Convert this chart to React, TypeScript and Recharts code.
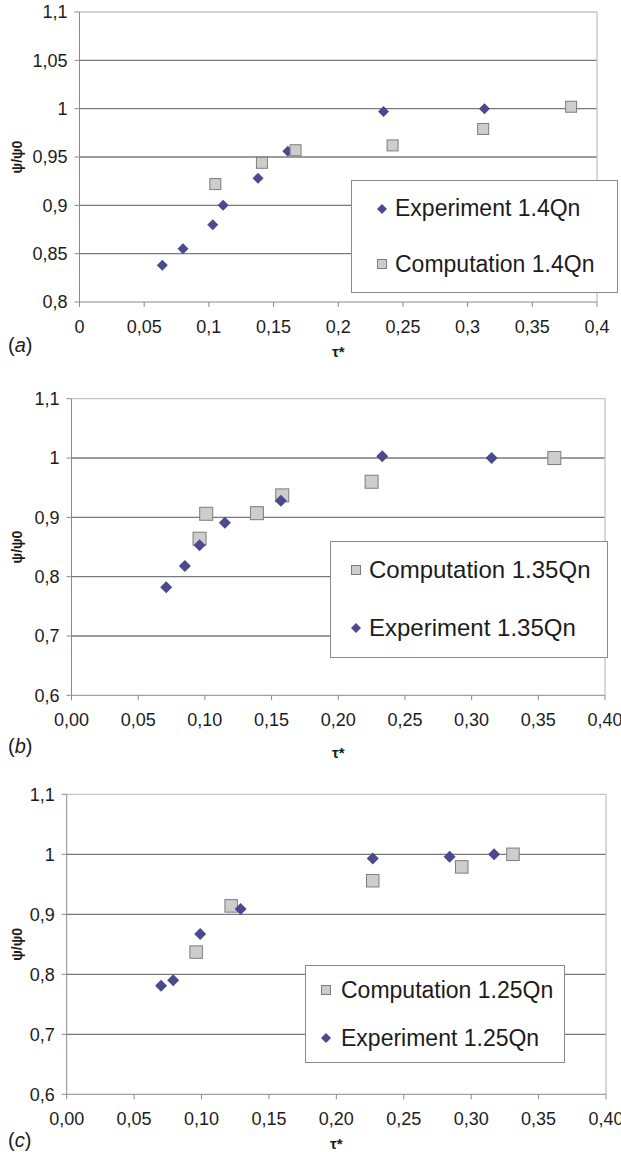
import React from 'react';
import {
  ScatterChart,
  Scatter,
  XAxis,
  YAxis,
  CartesianGrid,
  ReferenceLine,
  Legend,
  Label
} from 'recharts';

// tick values and labels
const xTicks = [0, 0.05, 0.1, 0.15, 0.2, 0.25, 0.3, 0.35, 0.4];
const xLabelsA = ['0', '0,05', '0,1', '0,15', '0,2', '0,25', '0,3', '0,35', '0,4'];
const xLabelsBC = ['0,00', '0,05', '0,10', '0,15', '0,20', '0,25', '0,30', '0,35', '0,40'];
const yTicksA = [0.8, 0.85, 0.9, 0.95, 1, 1.05, 1.1];
const yLabelsA = ['0,8', '0,85', '0,9', '0,95', '1', '1,05', '1,1'];
const yTicksBC = [0.6, 0.7, 0.8, 0.9, 1, 1.1];
const yLabelsBC = ['0,6', '0,7', '0,8', '0,9', '1', '1,1'];

// (a) 1.4Qn
const expA_x = [0.064, 0.08, 0.103, 0.111, 0.138, 0.161, 0.235, 0.313];
const expA_y = [0.838, 0.855, 0.88, 0.9, 0.928, 0.956, 0.997, 1.0];
const compA_x = [0.105, 0.141, 0.167, 0.242, 0.312, 0.38];
const compA_y = [0.922, 0.944, 0.957, 0.962, 0.979, 1.002];

// (b) 1.35Qn
const compB_x = [0.096, 0.101, 0.139, 0.158, 0.225, 0.362];
const compB_y = [0.864, 0.906, 0.907, 0.937, 0.96, 1.0];
const expB_x = [0.071, 0.085, 0.096, 0.115, 0.157, 0.233, 0.315];
const expB_y = [0.782, 0.818, 0.853, 0.891, 0.928, 1.003, 1.0];

// (c) 1.25Qn
const compC_x = [0.096, 0.122, 0.227, 0.293, 0.331];
const compC_y = [0.837, 0.914, 0.956, 0.979, 1.0];
const expC_x = [0.07, 0.079, 0.099, 0.129, 0.227, 0.284, 0.317];
const expC_y = [0.781, 0.79, 0.867, 0.909, 0.993, 0.996, 1.0];

const FONT = '"Liberation Sans", Arial, sans-serif';
const DIAMOND = '#4b4a8f';
const SQ = '#cdcdcd';
const SQ_EDGE = '#7d7d7d';
const GRID = '#7a7a7a';
const BORDER = '#c4c4c4';
const TEXT = '#1c1c1c';

const pts = (xs: number[], ys: number[]) => xs.map((x, i) => ({ x, y: ys[i] }));

const diamondShape = (r: number) => (props: any) => {
  const { cx, cy } = props;
  if (cx == null || cy == null) return <g />;
  return (
    <polygon
      points={`${cx},${cy - r} ${cx + r},${cy} ${cx},${cy + r} ${cx - r},${cy}`}
      fill={DIAMOND}
    />
  );
};

const squareShape = (s: number) => (props: any) => {
  const { cx, cy } = props;
  if (cx == null || cy == null) return <g />;
  return (
    <rect
      x={cx - s / 2}
      y={cy - s / 2}
      width={s}
      height={s}
      fill={SQ}
      stroke={SQ_EDGE}
      strokeWidth={1}
    />
  );
};

const legendBox = (order: string[], cfg: any) => (props: any) => {
  const items = [...(props.payload || [])].sort(
    (a, b) => order.indexOf(a.value) - order.indexOf(b.value)
  );
  return (
    <div
      style={{
        boxSizing: 'border-box',
        width: cfg.w,
        height: cfg.h,
        border: '1px solid #8a8a8a',
        background: '#fff',
        display: 'flex',
        flexDirection: 'column',
        justifyContent: 'space-around',
        paddingLeft: cfg.pad,
        fontFamily: FONT
      }}
    >
      {items.map((it) => (
        <div
          key={it.value}
          style={{ display: 'flex', alignItems: 'center', fontSize: cfg.fs, color: TEXT, lineHeight: 1 }}
        >
          <svg width={10} height={10} style={{ marginRight: cfg.gap, flex: 'none' }}>
            {it.type === 'diamond' ? (
              <polygon points="5,0 10,5 5,10 0,5" fill={DIAMOND} />
            ) : (
              <rect x={0.5} y={0.5} width={9} height={9} fill={SQ} stroke={SQ_EDGE} />
            )}
          </svg>
          <span style={{ whiteSpace: 'nowrap' }}>{it.value}</span>
        </div>
      ))}
    </div>
  );
};

function Panel(p: any) {
  const yMin = p.yTicks[0];
  const yMax = p.yTicks[p.yTicks.length - 1];
  return (
    <div style={{ position: 'absolute', left: 0, top: p.top }}>
      <ScatterChart
        width={621}
        height={p.height}
        margin={{ top: p.mt, right: p.mr, bottom: p.mb, left: 0 }}
        style={{ fontFamily: FONT }}
      >
        <CartesianGrid
          vertical={false}
          horizontalValues={p.yTicks.slice(1, -1)}
          stroke={GRID}
          strokeWidth={1.3}
        />
        <ReferenceLine y={yMax} stroke={BORDER} strokeWidth={1.3} />
        <ReferenceLine x={0.4} stroke={BORDER} strokeWidth={1.3} />
        <XAxis
          type="number"
          dataKey="x"
          domain={[0, 0.4]}
          ticks={xTicks}
          interval={0}
          allowDataOverflow
          height={30}
          tickSize={5}
          tickMargin={13}
          stroke="#8a8a8a"
          tick={{ fontSize: 18, fill: TEXT, fontFamily: FONT }}
          tickFormatter={(v: number, i: number) => p.xLabels[i]}
        >
          <Label
            value="τ*"
            position="bottom"
            offset={p.tauOffset}
            style={{ fontSize: 15, fontWeight: 'bold', fill: TEXT, fontFamily: FONT }}
          />
        </XAxis>
        <YAxis
          type="number"
          dataKey="y"
          domain={[yMin, yMax]}
          ticks={p.yTicks}
          interval={0}
          allowDataOverflow
          width={p.yw}
          tickSize={5}
          tickMargin={7}
          stroke="#8a8a8a"
          tick={{ fontSize: 18, fill: TEXT, fontFamily: FONT }}
          tickFormatter={(v: number, i: number) => p.yLabels[i]}
        >
          <Label
            value="ψ/ψ0"
            angle={-90}
            position="insideLeft"
            offset={17}
            style={{ fontSize: 14, fontWeight: 'bold', fill: TEXT, textAnchor: 'middle', fontFamily: FONT }}
          />
        </YAxis>
        {p.series.map((s: any) => (
          <Scatter
            key={s.name}
            name={s.name}
            data={s.data}
            legendType={s.kind}
            fill={s.kind === 'diamond' ? DIAMOND : SQ}
            shape={s.kind === 'diamond' ? diamondShape(s.size) : squareShape(s.size)}
            isAnimationActive={false}
          />
        ))}
        <Legend
          layout="vertical"
          align="center"
          verticalAlign="middle"
          wrapperStyle={{ left: p.legend.x, top: p.legend.y, width: p.legend.w, height: p.legend.h }}
          content={legendBox(p.series.map((s: any) => s.name), p.legend)}
        />
      </ScatterChart>
      <div
        style={{
          position: 'absolute',
          left: 8,
          top: p.tagY - 12,
          fontSize: 20,
          lineHeight: '24px',
          color: TEXT,
          fontFamily: FONT
        }}
      >
        (<i>{p.tag}</i>)
      </div>
    </div>
  );
}

export default function App() {
  return (
    <div style={{ position: 'absolute', left: 0, top: 0, width: 621, height: 1152, background: '#fff', overflow: 'hidden' }}>
      <Panel
        top={0}
        height={370}
        mt={12}
        mr={24}
        mb={38}
        yw={79.5}
        xLabels={xLabelsA}
        yTicks={yTicksA}
        yLabels={yLabelsA}
        tauOffset={14}
        tag="a"
        tagY={345}
        legend={{ x: 351, y: 180, w: 267, h: 113, pad: 25, gap: 8, fs: 23 }}
        series={[
          { name: 'Experiment 1.4Qn', kind: 'diamond', size: 5.5, data: pts(expA_x, expA_y) },
          { name: 'Computation 1.4Qn', kind: 'square', size: 11, data: pts(compA_x, compA_y) }
        ]}
      />
      <Panel
        top={380}
        height={390}
        mt={18.7}
        mr={16}
        mb={44.7}
        yw={71.5}
        xLabels={xLabelsBC}
        yTicks={yTicksBC}
        yLabels={yLabelsBC}
        tauOffset={22}
        tag="b"
        tagY={366}
        legend={{ x: 330, y: 160.7, w: 278, h: 117, pad: 20, gap: 8, fs: 24 }}
        series={[
          { name: 'Computation 1.35Qn', kind: 'square', size: 13, data: pts(compB_x, compB_y) },
          { name: 'Experiment 1.35Qn', kind: 'diamond', size: 6, data: pts(expB_x, expB_y) }
        ]}
      />
      <Panel
        top={775}
        height={377}
        mt={19.3}
        mr={15}
        mb={27.7}
        yw={66.7}
        xLabels={xLabelsBC}
        yTicks={yTicksBC}
        yLabels={yLabelsBC}
        tauOffset={14}
        tag="c"
        tagY={365}
        legend={{ x: 305, y: 190, w: 260, h: 98, pad: 15, gap: 10, fs: 23 }}
        series={[
          { name: 'Computation 1.25Qn', kind: 'square', size: 12.5, data: pts(compC_x, compC_y) },
          { name: 'Experiment 1.25Qn', kind: 'diamond', size: 6, data: pts(expC_x, expC_y) }
        ]}
      />
    </div>
  );
}
